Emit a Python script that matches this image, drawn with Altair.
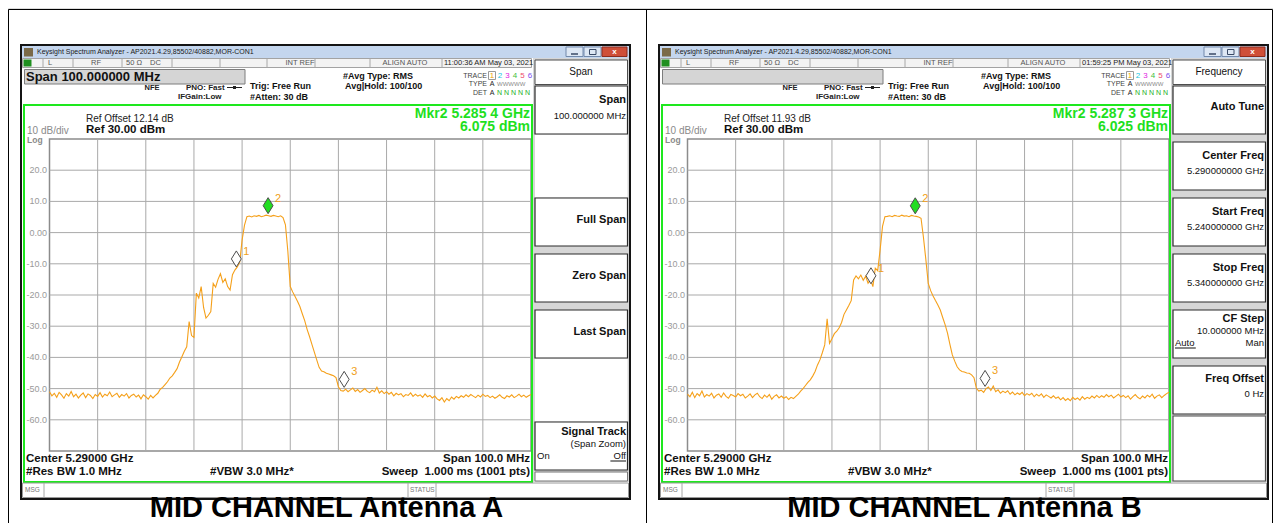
import altair as alt
import pandas as pd

# ------------------------------------------------------------------ data
START_MHZ = 5240.0
STOP_MHZ = 5340.0
STEP_MHZ = 0.5
DB_TOP, DB_BOTTOM = 30.0, -70.0

# Antenna A trace (dBm), one value every 0.5 MHz from 5.240 GHz
trace_a_floor_left = [
    -51.0, -52.3, -51.5, -52.8, -51.2, -52.0, -53.1, -51.6, -52.4, -50.9,
    -52.6, -51.8, -53.0, -52.1, -51.4, -52.9, -51.7, -52.2, -53.2, -51.9,
    -52.5, -51.3, -52.7, -51.8, -52.3, -51.1, -52.6, -52.0, -51.5, -52.8,
    -51.9, -52.4, -51.6, -53.0, -52.2, -51.8, -52.7, -52.1, -53.3, -52.0,
    -52.6, -53.4, -52.2, -53.0,
]
trace_a_signal = [
    -52.2, -51.5, -50.2, -49.6, -48.7, -47.8, -46.6, -45.9, -44.8, -43.6,
    -41.5, -39.8, -38.0, -36.6, -28.5, -33.0, -33.6, -19.4, -21.0, -17.3,
    -24.0, -27.4, -26.5, -25.3, -16.3, -17.5, -15.0, -13.2, -16.0, -14.8,
    -17.3, -18.4, -13.5, -12.0, -11.0, -9.5, -2.4, 2.4, 5.1, 5.3,
    5.0, 5.4, 5.2, 5.5, 5.1, 5.3, 5.6, 5.4, 5.2, 5.5,
    5.3, 5.1, 5.4, 4.8, 2.5, -6.0, -17.3, -19.0, -20.5, -22.0,
    -23.7, -26.0, -28.2, -31.0, -33.3, -35.8, -38.3, -40.8, -43.2, -44.4,
    -44.6, -45.1, -45.3, -45.6, -45.9, -46.5, -49.4, -50.6,
]
trace_a_floor_right = [
    -50.8, -50.2, -51.0, -50.4, -49.8, -50.9, -50.3, -51.2, -50.6, -50.0,
    -50.9, -51.3, -50.5, -51.0, -49.6, -51.4, -50.7, -51.6, -51.0, -51.8,
    -51.2, -52.3, -51.5, -52.0, -51.6, -52.6, -51.9, -52.2, -51.4, -52.5,
    -51.8, -52.4, -52.0, -52.8, -51.7, -52.6, -52.2, -53.0, -52.4, -53.3,
    -53.8, -52.9, -54.3, -53.2, -53.9, -52.7, -53.4, -52.5, -53.0, -52.3,
    -52.8, -52.0, -52.6, -51.9, -52.4, -52.9, -52.1, -52.7, -51.8, -52.5,
    -52.2, -52.9, -52.4, -53.1, -52.6, -52.0, -52.8, -53.2, -52.3, -52.7,
    -52.0, -52.9, -52.4, -51.8, -52.6, -52.1, -52.8, -52.3, -51.9,
]

# Antenna B trace (dBm)
trace_b_floor_left = [
    -51.8, -52.6, -51.2, -52.9, -51.6, -52.3, -50.8, -52.7, -51.9, -52.4,
    -51.5, -53.0, -52.1, -51.7, -52.8, -51.4, -52.5, -53.1, -51.9, -52.2,
    -52.7, -51.6, -52.3, -51.8, -53.0, -52.4, -51.7, -52.9, -52.0, -51.5,
    -52.6, -53.2, -52.1, -52.8, -51.9, -53.4, -52.5, -52.0, -53.0, -52.4,
    -53.1, -52.6, -53.5, -52.8, -53.2, -52.5,
]
trace_b_signal = [
    -51.8, -50.8, -50.0, -49.0, -48.0, -47.2, -46.0, -44.5, -42.4, -40.8,
    -38.5, -36.0, -27.6, -35.5, -34.0, -32.4, -31.6, -30.5, -28.8, -26.2,
    -24.8, -23.4, -21.8, -15.2, -13.9, -14.8, -13.6, -15.3, -14.0, -16.2,
    -15.0, -17.3, -11.4, -12.2, -5.6, 2.0, 5.1, 5.2, 5.4, 5.1,
    5.5, 5.3, 5.2, 5.6, 5.3, 5.4, 5.1, 5.5, 5.3, 5.2,
    5.0, 4.6, -1.5, -8.6, -16.3, -18.6, -20.3, -21.8, -23.2, -24.8,
    -27.2, -29.5, -32.2, -35.8, -39.2, -41.2, -43.0, -44.0, -44.5, -44.7,
    -45.0, -45.1, -45.6, -46.5, -49.9, -50.8,
]
trace_b_floor_right = [
    -50.5, -51.2, -50.0, -49.5, -50.6, -49.2, -51.0, -50.4, -51.5, -50.8,
    -51.3, -50.7, -51.8, -51.1, -52.0, -51.4, -51.9, -51.2, -52.3, -51.6,
    -52.1, -51.5, -52.6, -51.8, -52.4, -51.7, -52.8, -52.0, -52.5, -53.0,
    -52.3, -53.1, -52.7, -53.6, -52.9, -53.8, -53.2, -53.9, -52.8, -53.5,
    -53.0, -53.7, -52.6, -53.4, -52.8, -53.2, -52.4, -53.0, -52.2, -52.9,
    -52.3, -52.8, -51.9, -52.6, -52.1, -53.0, -52.4, -51.8, -52.7, -52.2,
    -52.9, -52.3, -53.4, -52.6, -51.9, -52.8, -53.3, -52.4, -53.0, -52.1,
    -52.7, -51.8, -53.1, -52.4, -52.0, -52.9, -52.2, -51.6, -51.2,
]

trace_a_db = trace_a_floor_left + trace_a_signal + trace_a_floor_right
trace_b_db = trace_b_floor_left + trace_b_signal + trace_b_floor_right

marker_names = ["1", "2", "3"]
marker_a_mhz = [5278.8, 5285.4, 5301.2]
marker_a_db = [-11.0, 6.075, -49.6]
marker_b_mhz = [5278.1, 5287.3, 5301.8]
marker_b_db = [-16.4, 6.025, -49.3]
active_marker = "2"

grid_mhz = [5250, 5260, 5270, 5280, 5290, 5300, 5310, 5320, 5330]
grid_db = [20, 10, 0, -10, -20, -30, -40, -50, -60]
ytick_labels = ["20.0", "10.0", "0.00", "-10.0", "-20.0", "-30.0", "-40.0", "-50.0", "-60.0"]

WINDOW_TITLE = "Keysight Spectrum Analyzer - AP2021.4.29,85502/40882,MOR-CON1"
PANELS = [
    dict(time="11:00:36 AM May 03, 2021", span_box="Span 100.000000 MHz",
         ref_off="Ref Offset 12.14 dB", mkr_f="Mkr2 5.285 4 GHz", mkr_v="6.075 dBm",
         menu="Span", title="MID CHANNEL Antenna A",
         keys=[[("Span", "b", 14), ("100.000000 MHz", "r", 30)],
               None,
               [("Full Span", "b", 22)],
               [("Zero Span", "b", 22)],
               [("Last Span", "b", 22)],
               None,
               [("Signal Track", "b", 10), ("(Span Zoom)", "r", 22), ("On", "l", 34), ("Off", "ru", 34)]]),
    dict(time="01:59:25 PM May 03, 2021", span_box="",
         ref_off="Ref Offset 11.93 dB", mkr_f="Mkr2 5.287 3 GHz", mkr_v="6.025 dBm",
         menu="Frequency", title="MID CHANNEL Antenna B",
         keys=[[("Auto Tune", "b", 21)],
               [("Center Freq", "b", 14), ("5.290000000 GHz", "r", 29)],
               [("Start Freq", "b", 14), ("5.240000000 GHz", "r", 29)],
               [("Stop Freq", "b", 14), ("5.340000000 GHz", "r", 29)],
               [("CF Step", "b", 9), ("10.000000 MHz", "r", 21), ("Auto", "lu", 33), ("Man", "r", 33)],
               [("Freq Offset", "b", 13), ("0 Hz", "r", 28)],
               "box"]),
]

# ------------------------------------------------------------------ layout
FONT = "Liberation Sans"
TRACE_COLOR = "#f5a01a"
W, H = 1265, 515
OFF = 8                      # page margin: reference pixel -> chart pixel
PANEL_DX = [0, 638]
GX0, GX1, GY0, GY1 = 49.5, 531.0, 139.0, 451.0
STATUS_SEPS = [43, 73, 122, 172, 220, 267, 315, 370, 442]

rects, rules, texts, titles = [], [], [], []


def rect(x1, y1, x2, y2, fill, stroke="transparent", sw=0):
    rects.append(dict(x=x1 - OFF, x2=x2 - OFF, y=y1 - OFF, y2=y2 - OFF,
                      fill=fill, stroke=stroke, sw=sw))


def rule(x1, y1, x2, y2, color, sw=1.0):
    rules.append(dict(x=x1 - OFF, x2=x2 - OFF, y=y1 - OFF, y2=y2 - OFF, color=color, sw=sw))


def text(x, y, t, size, color="#111111", align="left", bold=False):
    texts.append(dict(x=x - OFF, y=y - OFF, t=t, size=size, color=color,
                      align=align, bold=bold))


# document table borders
rule(8.5, 9.5, 1272.5, 9.5, "#000000", 1)
rule(8.5, 9.5, 8.5, 531, "#000000", 1)
rule(646.5, 9.5, 646.5, 531, "#000000", 1)
rule(1272.5, 9.5, 1272.5, 531, "#000000", 1)

for p, info in enumerate(PANELS):
    dx = PANEL_DX[p]

    def X(v):
        return v + dx

    # window frame and title bar
    rect(X(20), 44, X(631), 500, "#141414")
    rect(X(22), 46, X(629), 498, "#ffffff")
    rect(X(22), 46, X(629), 58, "#c4d6ee")
    rect(X(24), 48, X(33), 56.5, "#7a6a48")
    text(X(37), 52.3, WINDOW_TITLE, 7, "#1a1a1a")
    rect(X(566), 47, X(583), 56.5, "#dde7f4", "#7289ab", 1)
    rect(X(584), 47, X(601), 56.5, "#dde7f4", "#7289ab", 1)
    rect(X(602), 47, X(627), 56.5, "#cf4f38", "#8b2d1e", 1)
    rule(X(571), 54, X(578), 54, "#3a4a66", 1.5)
    rect(X(589.5), 49.5, X(596), 54.5, "transparent", "#3a4a66", 1)
    text(X(614.5), 51.6, "x", 8, "#ffffff", "center", True)

    # status row
    rect(X(22.5), 58.5, X(531.5), 67.5, "#f3f3f3", "#a3a3a3", 1)
    rect(X(23.5), 59.5, X(31.5), 66.5, "#1f8f1f")
    for s in STATUS_SEPS:
        rule(X(s), 58.5, X(s), 67.5, "#a8a8a8", 1)
    text(X(50), 63.3, "L", 7.5, "#555555", "center")
    text(X(96), 63.3, "RF", 7.5, "#555555", "center")
    text(X(126), 63.3, "50 \u03a9", 7.5, "#555555")
    text(X(150), 63.3, "DC", 7.5, "#555555")
    text(X(300), 63.3, "INT REF", 7.5, "#555555", "center")
    text(X(405), 63.3, "ALIGN AUTO", 7.5, "#555555", "center")
    text(X(444), 63.3, info["time"], 7.5, "#222222")

    # header
    rect(X(24.5), 69.5, X(245), 84, "#d5d5d5", "#7d7d7d", 1)
    if info["span_box"]:
        text(X(26), 77, info["span_box"], 13, "#111111", "left", True)
    text(X(152), 88.3, "NFE", 7.5, "#222222", "center", True)
    text(X(186), 88.3, "PNO: Fast", 8, "#222222", "left", True)
    rule(X(227), 87.5, X(242), 87.5, "#222222", 1)
    rect(X(233), 86, X(236), 89, "#222222")
    text(X(178), 97.3, "IFGain:Low", 8, "#222222", "left", True)
    text(X(250), 86, "Trig: Free Run", 9, "#111111", "left", True)
    text(X(250), 96.5, "#Atten: 30 dB", 9, "#111111", "left", True)
    text(X(343), 75.7, "#Avg Type: RMS", 9, "#111111", "left", True)
    text(X(345), 85.8, "Avg|Hold: 100/100", 9, "#111111", "left", True)
    text(X(487), 75.5, "TRACE", 7, "#444444", "right")
    text(X(487), 84.3, "TYPE", 7, "#444444", "right")
    text(X(487), 92.8, "DET", 7, "#444444", "right")
    rect(X(488.5), 71.5, X(495.5), 79.5, "#ffffff", "#9a9a9a", 1)
    for xx, d, c in zip([492, 500, 507.5, 515, 522.5, 530],
                        ["1", "2", "3", "4", "5", "6"],
                        ["#f0a000", "#18c4e0", "#e020e0", "#40c040", "#ee4b6a", "#7a4cf0"]):
        text(X(xx), 75.5, d, 8, c, "center")
    text(X(492), 84.3, "A", 7, "#222222", "center")
    text(X(497), 84.3, "WWWWW", 6, "#8a8a8a")
    text(X(492), 92.8, "A", 7, "#222222", "center")
    text(X(497), 92.8, "N N N N N", 7, "#22b022")

    # green measurement frame and grid box
    rect(X(24), 105, X(532), 482, "#ffffff")
    rect(X(GX0), GY0, X(GX1), GY1, "#ffffff", "#8c8c8c", 1.5)
    rect(X(24), 105, X(532), 482, "transparent", "#1ee81e", 2)
    text(X(530), 113.5, info["mkr_f"], 14, "#1ee01e", "right", True)
    text(X(530), 127, info["mkr_v"], 14, "#1ee01e", "right", True)
    text(X(86), 119, info["ref_off"], 10, "#222222")
    text(X(86), 130, "Ref 30.00 dBm", 11.5, "#111111", "left", True)
    text(X(27), 131, "10 dB/div", 10, "#8a8a8a")
    text(X(27), 139.5, "Log", 8.5, "#8a8a8a", "left", True)
    text(X(26), 459, "Center 5.29000 GHz", 11.5, "#111111", "left", True)
    text(X(530), 459, "Span 100.0 MHz", 11.5, "#111111", "right", True)
    text(X(26), 472, "#Res BW 1.0 MHz", 11.5, "#111111", "left", True)
    text(X(210), 472, "#VBW 3.0 MHz*", 11.5, "#111111", "left", True)
    text(X(530), 472, "Sweep\u00a0 1.000 ms (1001 pts)", 11.5, "#111111", "right", True)

    # message bar
    rect(X(22.5), 483, X(628.5), 497.5, "#ffffff", "#9a9a9a", 1)
    for s in [44, 408, 436]:
        rule(X(s), 483, X(s), 497.5, "#a8a8a8", 1)
    text(X(25), 490.3, "MSG", 6.5, "#777777")
    text(X(410), 490.3, "STATUS", 6.5, "#777777")

    # softkey panel
    rect(X(533), 58, X(629), 482, "#d6d6d6")
    rect(X(535), 60, X(627.5), 84.5, "#ffffff", "#4d4d4d", 1)
    text(X(581), 72, info["menu"], 10, "#111111", "center")
    keys = info["keys"]
    for k, key in enumerate(keys):
        t = 86 + 56 * k
        if key is None:
            rect(X(535), t - 7.5, X(627.5), t + 55.5, "#ffffff")
    for k, key in enumerate(keys):
        t = 86 + 56 * k
        if key is None:
            continue
        if key == "box":
            rect(X(535), t - 6, X(627.5), 481, "#ffffff", "#4d4d4d", 1.2)
            continue
        rect(X(535), t, X(627.5), t + 48, "#ffffff", "#2a2a2a", 1.2)
        for (label, kind, yo) in key:
            if kind == "b":
                text(X(626), t + yo, label, 11, "#111111", "right", True)
            elif kind == "r":
                text(X(626), t + yo, label, 9.5, "#111111", "right")
            elif kind == "ru":
                text(X(626), t + yo, label, 9.5, "#111111", "right")
                rule(X(626 - 5.2 * len(label)), t + yo + 5, X(626), t + yo + 5, "#111111", 1)
            elif kind == "l":
                text(X(537), t + yo, label, 9.5, "#111111", "left")
            elif kind == "lu":
                text(X(537), t + yo, label, 9.5, "#111111", "left")
                rule(X(537), t + yo + 5, X(537 + 5.2 * len(label)), t + yo + 5, "#111111", 1)
    if keys[-1] != "box":
        rect(X(535), 472, X(627.5), 481, "#ffffff", "#777777", 1)

    # caption under the screenshot
    titles.append(dict(x=X(326.5) - OFF, y=509, t=info["title"]))


rects_df = pd.DataFrame(rects)
rules_df = pd.DataFrame(rules)
texts_df = pd.DataFrame(texts)
titles_df = pd.DataFrame(titles)

PX = dict(scale=None, axis=None)

rect_layer = alt.Chart(rects_df).mark_rect().encode(
    x=alt.X("x:Q", **PX), x2="x2:Q", y=alt.Y("y:Q", **PX), y2="y2:Q",
    fill=alt.Fill("fill:N", scale=None, legend=None),
    stroke=alt.Stroke("stroke:N", scale=None, legend=None),
    strokeWidth=alt.StrokeWidth("sw:Q", scale=None, legend=None),
)

rule_layer = alt.Chart(rules_df).mark_rule().encode(
    x=alt.X("x:Q", **PX), x2="x2:Q", y=alt.Y("y:Q", **PX), y2="y2:Q",
    color=alt.Color("color:N", scale=None, legend=None),
    strokeWidth=alt.StrokeWidth("sw:Q", scale=None, legend=None),
)


def text_layer(df, align, bold):
    return alt.Chart(df).mark_text(
        align=align, baseline="middle", font=FONT,
        fontWeight="bold" if bold else "normal",
    ).encode(
        x=alt.X("x:Q", **PX), y=alt.Y("y:Q", **PX), text="t:N",
        size=alt.Size("size:Q", scale=None, legend=None),
        color=alt.Color("color:N", scale=None, legend=None),
    )


text_layers = []
for align in ["left", "center", "right"]:
    for bold in [False, True]:
        sub = texts_df[(texts_df["align"] == align) & (texts_df["bold"] == bold)]
        if len(sub):
            text_layers.append(text_layer(sub.reset_index(drop=True), align, bold))

title_layer = alt.Chart(titles_df).mark_text(
    align="center", baseline="alphabetic", font=FONT, fontWeight="bold",
    fontSize=29, color="#000000",
).encode(x=alt.X("x:Q", **PX), y=alt.Y("y:Q", **PX), text="t:N")

DIAMOND = "M0,-1L0.62,0L0,1L-0.62,0Z"
panel_layers = []
for p, (vals, mk_f, mk_d) in enumerate([(trace_a_db, marker_a_mhz, marker_a_db),
                                         (trace_b_db, marker_b_mhz, marker_b_db)]):
    dx = PANEL_DX[p]
    sx = alt.Scale(domain=[START_MHZ, STOP_MHZ], range=[GX0 + dx - OFF, GX1 + dx - OFF],
                   zero=False, nice=False)
    sy = alt.Scale(domain=[DB_BOTTOM, DB_TOP], range=[GY1 - OFF, GY0 - OFF],
                   zero=False, nice=False)
    vgrid = pd.DataFrame({"mhz": grid_mhz, "lo": DB_BOTTOM, "hi": DB_TOP})
    hgrid = pd.DataFrame({"db": grid_db, "flo": START_MHZ, "fhi": STOP_MHZ})
    ticks = pd.DataFrame({"db": grid_db, "label": ytick_labels})
    trace = pd.DataFrame({"mhz": [START_MHZ + STEP_MHZ * i for i in range(len(vals))],
                          "db": vals})
    mk = pd.DataFrame({"mhz": mk_f, "db": mk_d, "name": marker_names,
                       "fill": ["#22dd22" if n == active_marker else "#ffffff" for n in marker_names]})

    panel_layers += [
        alt.Chart(vgrid).mark_rule(color="#a9a9a9", strokeWidth=1).encode(
            x=alt.X("mhz:Q", scale=sx, axis=None),
            y=alt.Y("lo:Q", scale=sy, axis=None), y2="hi:Q"),
        alt.Chart(hgrid).mark_rule(color="#a9a9a9", strokeWidth=1).encode(
            y=alt.Y("db:Q", scale=sy, axis=None),
            x=alt.X("flo:Q", scale=sx, axis=None), x2="fhi:Q"),
        alt.Chart(ticks).mark_text(align="right", baseline="middle", font=FONT,
                                   fontSize=9, color="#9a9a9a").encode(
            x=alt.value(47 + dx - OFF),
            y=alt.Y("db:Q", scale=sy, axis=None), text="label:N"),
        alt.Chart(trace).mark_line(color=TRACE_COLOR, strokeWidth=1.1).encode(
            x=alt.X("mhz:Q", scale=sx, axis=None),
            y=alt.Y("db:Q", scale=sy, axis=None)),
        alt.Chart(mk).mark_point(shape=DIAMOND, size=256, filled=True, opacity=1,
                                 stroke="#4d4d4d", strokeWidth=1, yOffset=-8).encode(
            x=alt.X("mhz:Q", scale=sx, axis=None),
            y=alt.Y("db:Q", scale=sy, axis=None),
            fill=alt.Fill("fill:N", scale=None, legend=None)),
        alt.Chart(mk).mark_text(align="left", baseline="middle", font=FONT, fontSize=11,
                                color="#f0a020", dx=7, dy=-15).encode(
            x=alt.X("mhz:Q", scale=sx, axis=None),
            y=alt.Y("db:Q", scale=sy, axis=None), text="name:N"),
    ]

layers = [rect_layer] + panel_layers + [rule_layer] + text_layers + [title_layer]

chart = alt.layer(*layers).resolve_scale(
    x="independent", y="independent"
).properties(
    width=W, height=H, padding=0,
    autosize=alt.AutoSizeParams(type="none"),
).configure_view(stroke=None).configure(background="#ffffff")

chart.save("out.html", embed_options={"renderer": "svg", "actions": False})
